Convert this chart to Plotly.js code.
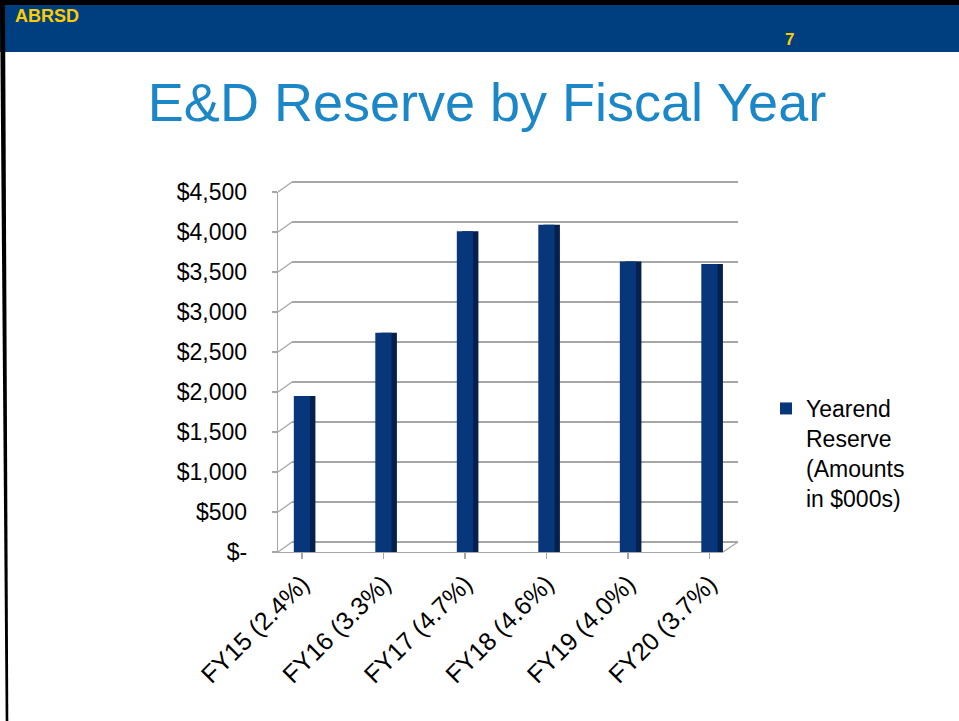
<!DOCTYPE html>
<html>
<head>
<meta charset="utf-8">
<script src="https://cdn.plot.ly/plotly-3.0.1.min.js"></script>
<style>
  html, body { margin: 0; padding: 0; background: #ffffff; }
  #chart { width: 959px; height: 721px; }
</style>
</head>
<body>
<div id="chart"></div>
<script>
// ---- data ----
const categories = ["FY15 (2.4%)", "FY16 (3.3%)", "FY17 (4.7%)", "FY18 (4.6%)", "FY19 (4.0%)", "FY20 (3.7%)"];
const reserveValues = [1950, 2740, 4010, 4090, 3630, 3600];
const seriesName = "Yearend<br>Reserve<br>(Amounts<br>in $000s)";
const yTickVals = [0, 500, 1000, 1500, 2000, 2500, 3000, 3500, 4000, 4500];
const yTickText = ["$-", "$500", "$1,000", "$1,500", "$2,000", "$2,500", "$3,000", "$3,500", "$4,000", "$4,500"];
const slideTitle = "E&D Reserve by Fiscal Year";
const headerLeft = "ABRSD";
const pageNumber = "7";

// ---- layout helpers ----
const W = 959, H = 721;
const px = x => x / W;
const py = y => 1 - y / H;
const yMax = 4500;

// front (axis) plane and back wall
const front = { x0: 278, x1: 723, yTop: 192, yBot: 552 };
const back  = { x0: 292, x1: 738, yTop: 182, yBot: 542 };

const FONT = "Liberation Sans, Arial, sans-serif";
const GRID = "#a6a6a6";
const BAR = "#08367a";
const BAR_SIDE = "#04204d";

const traces = [
  { // back-wall subplot placeholder
    type: "scatter", x: [], y: [], xaxis: "x", yaxis: "y",
    showlegend: false, hoverinfo: "skip"
  },
  { // darker right side of each column
    type: "bar", x: categories, y: reserveValues,
    xaxis: "x2", yaxis: "y2",
    width: 0.2, offset: -0.035,
    marker: { color: BAR_SIDE },
    showlegend: false, hoverinfo: "skip"
  },
  { // front face of each column
    type: "bar", x: categories, y: reserveValues, name: seriesName,
    xaxis: "x2", yaxis: "y2",
    width: 0.2, offset: -0.1,
    marker: { color: BAR },
    showlegend: true
  }
];

// header, borders and 3D-look connectors between front axis and back wall
const shapes = [
  { type: "rect", xref: "paper", yref: "paper", layer: "below",
    x0: 0, x1: 1, y0: py(52), y1: 1, fillcolor: "#003f7f", line: { width: 0 } },
  { type: "rect", xref: "paper", yref: "paper", layer: "below",
    x0: 0, x1: 1, y0: py(5), y1: 1, fillcolor: "#000000", line: { width: 0 } },
  { type: "path", xref: "paper", yref: "paper", layer: "above",
    path: `M ${px(0)},${py(0)} L ${px(5)},${py(0)} L ${px(8.3)},${py(H)} L ${px(5.7)},${py(H)} Z`,
    fillcolor: "#000000", line: { width: 0 } }
];
yTickVals.forEach(v => {
  const f = v / yMax;
  shapes.push({
    type: "line", xref: "paper", yref: "paper", layer: "below",
    x0: px(front.x0), y0: py(front.yBot) + f * (py(front.yTop) - py(front.yBot)),
    x1: px(back.x0),  y1: py(back.yBot)  + f * (py(back.yTop)  - py(back.yBot)),
    line: { color: GRID, width: 1.3 }
  });
});
shapes.push({
  type: "line", xref: "paper", yref: "paper", layer: "below",
  x0: px(front.x1), y0: py(front.yBot), x1: px(back.x1), y1: py(back.yBot),
  line: { color: GRID, width: 1.3 }
});

// small padding so the top and bottom back-wall gridlines are drawn
const padPx = 2, padV = padPx * yMax / (back.yBot - back.yTop);

const layout = {
  width: W, height: H, autosize: false,
  margin: { l: 0, r: 0, t: 0, b: 0, pad: 0 },
  paper_bgcolor: "#ffffff",
  plot_bgcolor: "rgba(0,0,0,0)",
  barmode: "overlay",
  font: { family: FONT, color: "#000000", size: 23 },
  title: {
    text: slideTitle,
    x: px(487), xanchor: "center",
    y: py(102), yanchor: "middle",
    font: { family: FONT, size: 54, color: "#1b87c6" }
  },
  // back wall (grid only)
  xaxis: {
    domain: [px(back.x0), px(back.x1)], anchor: "y",
    range: [0, 1], visible: false, fixedrange: true
  },
  yaxis: {
    domain: [py(back.yBot + padPx), py(back.yTop - padPx)], anchor: "x",
    range: [-padV, yMax + padV], tickmode: "array", tickvals: yTickVals,
    showgrid: true, gridcolor: GRID, gridwidth: 1.3,
    showticklabels: false, zeroline: false, showline: false, ticks: "",
    fixedrange: true
  },
  // front plane (bars, ticks, labels)
  xaxis2: {
    domain: [px(front.x0), px(front.x1)], anchor: "y2",
    type: "category", range: [-0.294, 5.166],
    showline: true, linecolor: GRID, linewidth: 1.3,
    ticks: "outside", ticklen: 6, tickcolor: GRID, tickwidth: 1.3,
    tickangle: -45, tickfont: { family: FONT, size: 25, color: "#000000" },
    showgrid: false, zeroline: false, fixedrange: true
  },
  yaxis2: {
    domain: [py(front.yBot), py(front.yTop)], anchor: "x2",
    range: [0, yMax], tickmode: "array", tickvals: yTickVals, ticktext: yTickText,
    showline: true, linecolor: GRID, linewidth: 1.3,
    ticks: "outside", ticklen: 5, tickcolor: GRID, tickwidth: 1.3,
    ticklabelstandoff: 20,
    tickfont: { family: FONT, size: 23, color: "#000000" },
    showgrid: false, zeroline: false, fixedrange: true
  },
  showlegend: true,
  legend: {
    x: px(766), xanchor: "left",
    y: py(387), yanchor: "top",
    valign: "top", itemwidth: 30,
    font: { family: FONT, size: 23, color: "#000000" },
    bgcolor: "rgba(0,0,0,0)", borderwidth: 0
  },
  shapes: shapes,
  annotations: [
    { text: "<b>" + headerLeft + "</b>", xref: "paper", yref: "paper",
      x: px(13), xanchor: "left", y: py(16), yanchor: "middle", showarrow: false,
      font: { family: FONT, size: 18, color: "#ffcc00" } },
    { text: "<b>" + pageNumber + "</b>", xref: "paper", yref: "paper",
      x: px(789), xanchor: "center", y: py(40), yanchor: "middle", showarrow: false,
      font: { family: FONT, size: 17, color: "#ffcc00" } }
  ]
};

Plotly.newPlot("chart", traces, layout, { displayModeBar: false, staticPlot: true });
</script>
</body>
</html>
